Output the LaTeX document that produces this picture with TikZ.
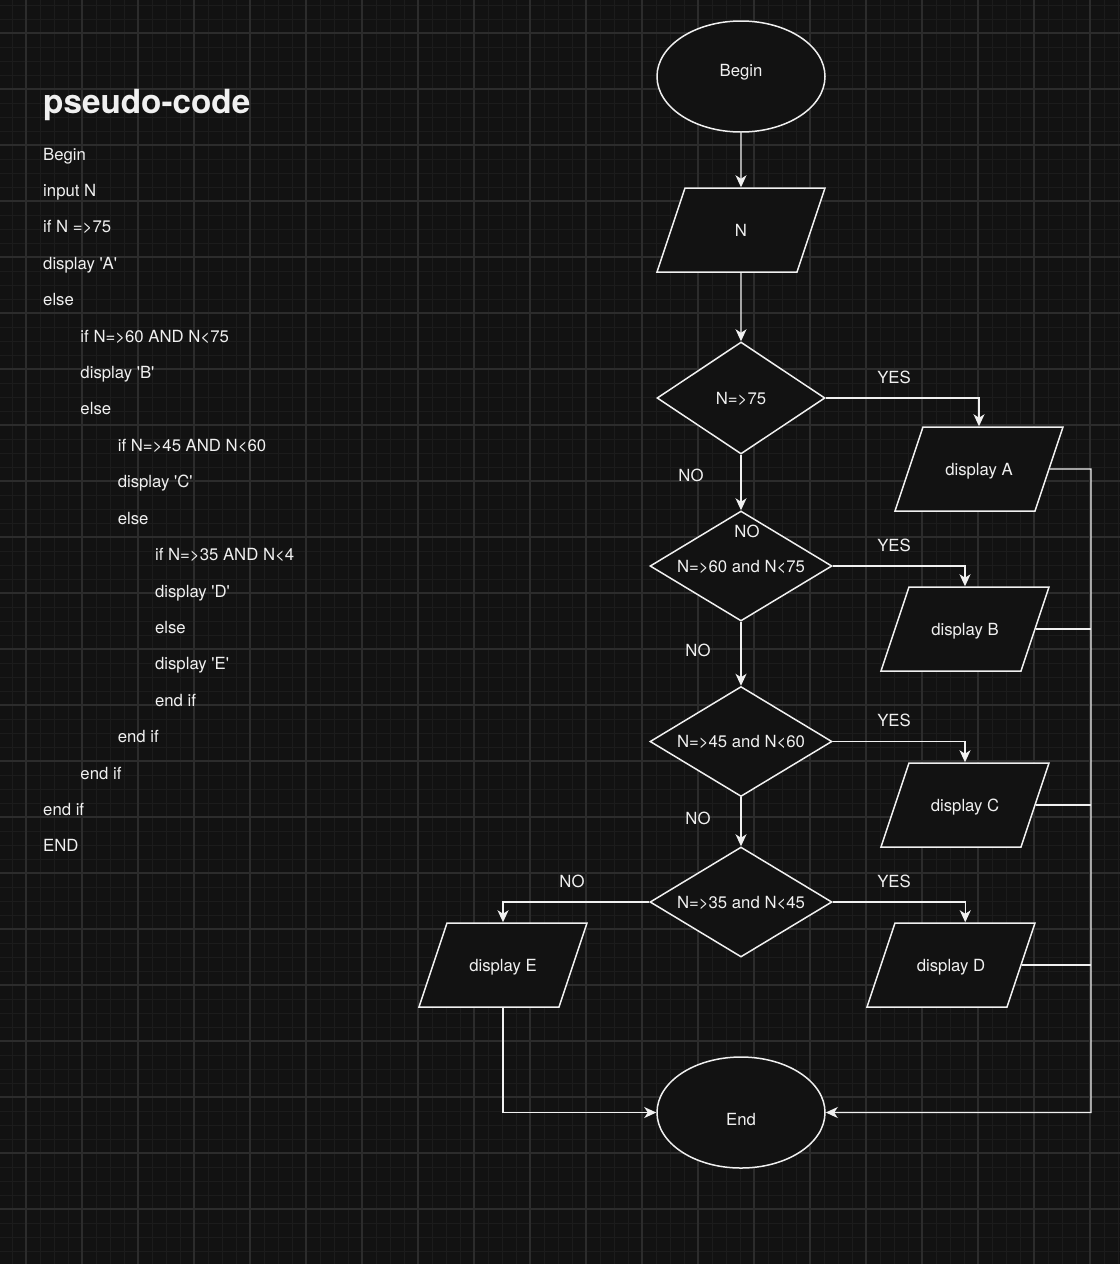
\documentclass[tikz,border=0pt]{standalone}
\usepackage{fontspec}
\newfontfamily\heros{TeX Gyre Heros}
\usetikzlibrary{arrows.meta, positioning, shapes.geometric}
\definecolor{bgcol}{HTML}{121212}
\definecolor{gridmajor}{HTML}{2C2C2C}
\definecolor{gridminor}{HTML}{1C1C1C}
\definecolor{inkcol}{HTML}{F0F0F0}

\begin{document}
\begin{tikzpicture}[x=1bp, y=-1bp, >={Stealth[length=12bp,width=11bp,inset=3.5bp,fill=inkcol]},
    font=\heros\fontsize{16.8}{20}\selectfont, text=inkcol,
    flow/.style={draw=inkcol, line width=1.5bp, fill=bgcol, inner sep=0pt, text height=12bp, text depth=0pt},
    term node/.style={flow, ellipse, minimum width=168bp, minimum height=111bp},
    io node/.style={flow, trapezium, trapezium left angle=71.565, trapezium right angle=108.435,
        trapezium stretches body, inner xsep=0pt, inner ysep=36bp, minimum width=168bp},
    test node/.style={flow, diamond, aspect=1.65, minimum width=182bp, minimum height=110bp},
    link/.style={->, draw=inkcol, line width=1.3bp},
    tag/.style={inner sep=0pt, text height=12bp, text depth=0pt},
    code line/.style={tag, anchor=west}]

    \useasboundingbox (0,0) rectangle (1120,1264);
    \fill[bgcol] (0,0) rectangle (1120,1264);

    % grid
    \foreach \k in {-1,...,78}
        \draw[gridminor, line width=1bp] (26+14*\k,0) -- (26+14*\k,1264);
    \foreach \k in {-2,...,88}
        \draw[gridminor, line width=1bp] (0,33+14*\k) -- (1120,33+14*\k);
    \foreach \k in {0,...,19}
        \draw[gridmajor, line width=1.2bp] (26+56*\k,0) -- (26+56*\k,1264);
    \foreach \k in {0,...,22}
        \draw[gridmajor, line width=1.2bp] (0,33+56*\k) -- (1120,33+56*\k);

    % pseudo-code
    \node[code line, font=\heros\bfseries\fontsize{33.4}{40}\selectfont, text height=24bp] (title) at (43,101) {pseudo-code};
    \foreach \lvl/\txt [count=\i] in {0/Begin, 0/input N, 0/if N =>75, 0/display 'A', 0/else,
            1/if N=>60 AND N<75, 1/display 'B', 1/else,
            2/if N=>45 AND N<60, 2/display 'C', 2/else,
            3/if N=>35 AND N<4, 3/display 'D', 3/else, 3/display 'E', 3/end if,
            2/end if, 1/end if, 0/end if, 0/END}
        \node[code line] (code\i) at ({43+37.3*\lvl}, {154+36.42*(\i-1)}) {\txt};

    % flowchart
    \node[term node, text depth=13bp] (begin) at (741,76.5) {Begin};
    \node[io node] (input) [below of=begin, node distance=153.5bp] {N};
    \node[test node, aspect=1.5, minimum width=168bp, minimum height=112bp] (t75) [below of=input, node distance=168bp] {N=>75};
    \node[test node] (t60) [below of=t75, node distance=168bp] {N=>60 and N<75};
    \node[test node] (t45) [below of=t60, node distance=175.5bp] {N=>45 and N<60};
    \node[test node] (t35) [below of=t45, node distance=160.5bp] {N=>35 and N<45};
    \node[term node, text height=25bp] (end) [below of=t35, node distance=210.5bp] {End};

    \node[io node] (outA) at (979,469) {display A};
    \node[io node] (outB) at (965,629) {display B};
    \node[io node] (outC) at (965,805) {display C};
    \node[io node] (outD) at (951,965) {display D};
    \node[io node] (outE) at (503,965) {display E};

    \node[tag] (yes75) at (894,377) {YES};
    \node[tag] (no75)  at (691,475) {NO};
    \node[tag] (no60in) at (747,531) {NO};
    \node[tag] (yes60) at (894,545) {YES};
    \node[tag] (no60)  at (698,650) {NO};
    \node[tag] (yes45) at (894,720) {YES};
    \node[tag] (no45)  at (698,818) {NO};
    \node[tag] (yes35) at (894,881) {YES};
    \node[tag] (no35)  at (572,881) {NO};

    \coordinate (rail) at (1091,1112.5);

    \path[link]
        (begin) edge (input)
        (input) edge (t75)
        (t75)   edge (t60)
        (t60)   edge (t45)
        (t45)   edge (t35);
    \draw[link] (t75.east) -| (outA.center |- outA.north);
    \draw[link] (t60.east) -| (outB.center |- outB.north);
    \draw[link] (t45.east) -| (outC.center |- outC.north);
    \draw[link] (t35.east) -| (outD.top side);
    \draw[link] (t35.west) -| (outE.center |- outE.north);
    \draw[link] (outE.center |- outE.south) |- (end.west);
    \draw[link] (outA.right side) -| (rail) -- (end.east);
    \draw[link, -] (outB.right side) -- (outB.right side -| rail);
    \draw[link, -] (outC.right side) -- (outC.right side -| rail);
    \draw[link, -] (outD.right side) -- (outD.right side -| rail);
\end{tikzpicture}
\end{document}
